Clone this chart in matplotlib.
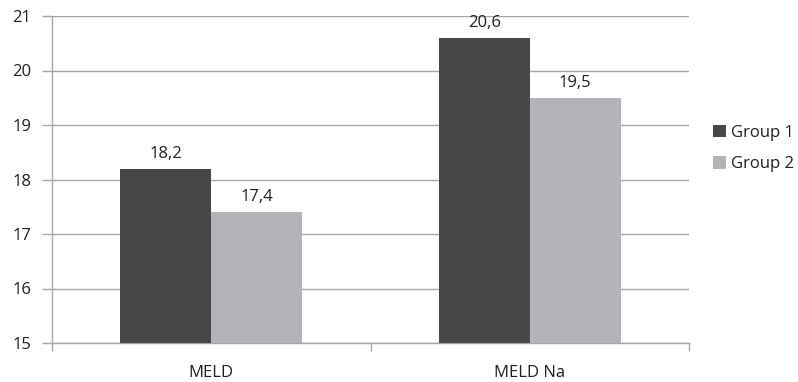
import matplotlib
matplotlib.use("Agg")
import matplotlib.pyplot as plt
import numpy as np

categories = ["MELD", "MELD Na"]
group1 = [18.2, 20.6]
group2 = [17.4, 19.5]
series_names = ["Group 1", "Group 2"]
y_ticks = [15, 16, 17, 18, 19, 20, 21]

plt.rcParams["font.family"] = ["Open Sans", "DejaVu Sans"]

dark = "#464749"
light = "#b3b4b8"
grid_c = "#a6a6a6"
text_c = "#1e1e1e"
fs = 12

fig = plt.figure(figsize=(7.98, 3.82), dpi=100)
ax_w = (689 - 52) / 798
ax = fig.add_axes([52 / 798, 39 / 382, ax_w, (343 - 16) / 382])

x = np.arange(len(categories))
w = 1 / 3.5
ax.bar(x - w / 2, np.array(group1) - 15, w, bottom=15, color=dark, label=series_names[0], zorder=3)
ax.bar(x + w / 2, np.array(group2) - 15, w, bottom=15, color=light, label=series_names[1], zorder=3)

for xs, vals in ((x - w / 2, group1), (x + w / 2, group2)):
    for xi, v in zip(xs, vals):
        ax.annotate(f"{v:.1f}".replace(".", ","), (xi, v), xytext=(0, 5),
                    textcoords="offset points", ha="center", va="bottom",
                    fontsize=fs, color=text_c)

ax.set_xlim(-0.5, len(categories) - 0.5)
ax.set_ylim(15, 21)
ax.set_yticks(y_ticks)
ax.set_yticklabels([str(t) for t in y_ticks])
ax.yaxis.grid(True, color=grid_c, linewidth=1.0, zorder=0)
ax.set_axisbelow(True)

ax.set_xticks(x)
ax.set_xticklabels(categories)
ax.tick_params(axis="x", length=0, pad=16, labelsize=fs, labelcolor=text_c)
ax.set_xticks([-0.5, 0.5, 1.5], minor=True)
ax.tick_params(axis="x", which="minor", length=6, color=grid_c, width=1)
ax.tick_params(axis="y", length=7, color=grid_c, width=1, pad=8, labelsize=fs, labelcolor=text_c)

for s in ("top", "right"):
    ax.spines[s].set_visible(False)
for s in ("left", "bottom"):
    ax.spines[s].set_color(grid_c)
    ax.spines[s].set_linewidth(1.0)

ax.legend(loc="center left", bbox_to_anchor=(1 + 24 / 637, 0.595), frameon=False,
          borderaxespad=0, borderpad=0,
          fontsize=fs, handlelength=0.75, handleheight=0.75, handletextpad=0.35,
          labelspacing=0.95, labelcolor=text_c)

fig.savefig("out.png", dpi=100)
